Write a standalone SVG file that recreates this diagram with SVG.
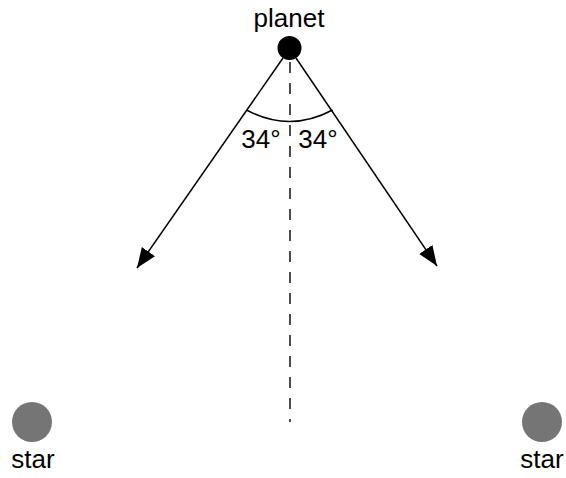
<svg xmlns="http://www.w3.org/2000/svg" width="566" height="478" viewBox="0 0 566 478">
<defs>
<style>
text { font-family: "Liberation Sans", Arial, sans-serif; font-size: 26px; fill: #000; text-anchor: middle; }
.ln { stroke: #000; stroke-width: 1.5; fill: none; }
.dash { stroke: #000; stroke-width: 1.4; stroke-dasharray: 11 10; fill: none; }
.star { fill: #757575; }
</style>
<marker id="ah" markerUnits="userSpaceOnUse" markerWidth="22" markerHeight="18" refX="20" refY="8" orient="auto">
<path d="M0,0 L20,8 L0,16 z" fill="#000"/>
</marker>
</defs>
<g id="connectors">
<line class="dash" x1="290" y1="62" x2="290" y2="422"/>
<line class="ln" x1="283" y1="58" x2="137" y2="268" marker-end="url(#ah)"/>
<line class="ln" x1="296" y1="58" x2="437" y2="266" marker-end="url(#ah)"/>
<path class="ln" d="M246.5,110 Q289.5,133 332.5,110"/>
</g>
<g id="planet">
<circle cx="289.5" cy="48" r="12" fill="#000"/>
<text x="289" y="27">planet</text>
</g>
<g id="angle-left"><text x="261" y="148">34°</text></g>
<g id="angle-right"><text x="318" y="148">34°</text></g>
<g id="star-left">
<circle class="star" cx="32" cy="422" r="20"/>
<text x="33" y="468">star</text>
</g>
<g id="star-right">
<circle class="star" cx="542" cy="422" r="20"/>
<text x="542" y="468">star</text>
</g>
</svg>
